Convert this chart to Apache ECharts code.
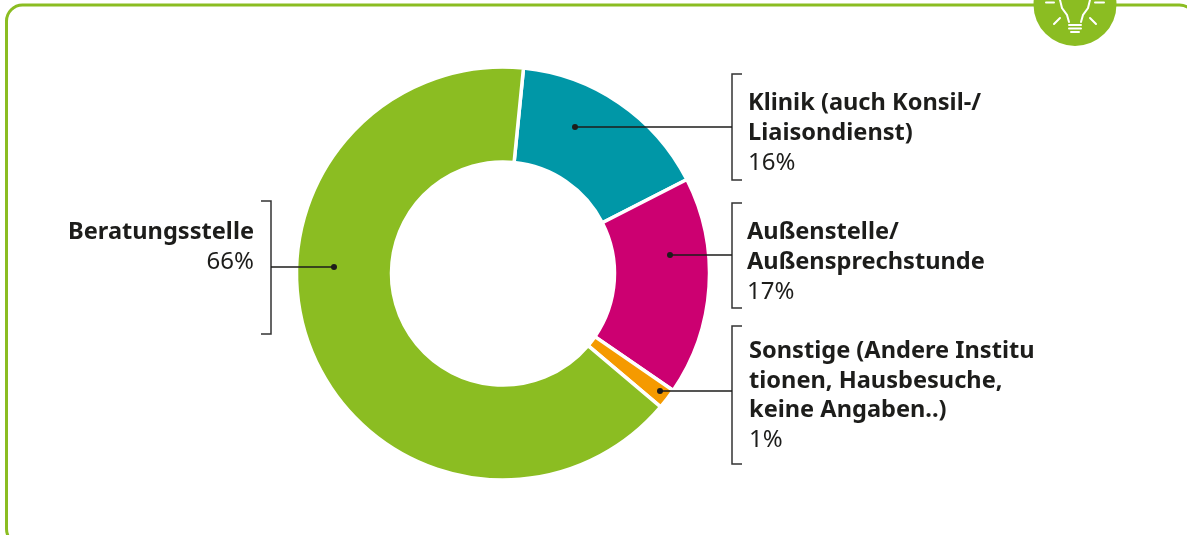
<!DOCTYPE html>
<html><head><meta charset="utf-8">
<style>html,body{margin:0;padding:0;background:#fff}#c{width:1187px;height:535px}</style>
<script src="https://cdn.jsdelivr.net/npm/echarts@6/dist/echarts.min.js"></script>
</head><body><div id="c"></div>
<script>
var categories = ['Klinik (auch Konsil-/\nLiaisondienst)', 'Außenstelle/\nAußensprechstunde', 'Sonstige (Andere Institu\ntionen, Hausbesuche,\nkeine Angaben..)', 'Beratungsstelle'];
var sliceValues = [15.9, 17.1, 1.6, 65.4];
var percentLabels = ['16%', '17%', '1%', '66%'];
var colors = ['#0097a7', '#cc0071', '#f59a00', '#8bbd22'];
var labelPos = [
  {x:748,y:89,align:'left'},
  {x:747,y:218,align:'left'},
  {x:749,y:337,align:'left'},
  {x:254,y:218,align:'right'}
];
var brackets = [
  {x:732,t:74,b:180,y:127,dx:575,dir:1},
  {x:732,t:203,b:308,y:255,dx:670,dir:1},
  {x:732,t:326,b:464,y:391,dx:660,dir:1},
  {x:271,t:201,b:334,y:267,dx:334,dir:-1}
];
var ink = '#1d1d1b', green = '#8bbd22';
var g = [];
g.push({type:'rect',shape:{x:6.5,y:5,width:1189,height:540,r:16},style:{fill:'none',stroke:green,lineWidth:3},z:1});
brackets.forEach(function(b){
  g.push({type:'polyline',shape:{points:[[b.x+b.dir*10,b.t],[b.x,b.t],[b.x,b.b],[b.x+b.dir*10,b.b]]},style:{fill:'none',stroke:'#333',lineWidth:1.5},z:5});
  g.push({type:'line',shape:{x1:b.x,y1:b.y,x2:b.dx,y2:b.y},style:{stroke:ink,lineWidth:1.5},z:5});
  g.push({type:'circle',shape:{cx:b.dx,cy:b.y,r:3},style:{fill:ink},z:6});
});
g.push({type:'circle',shape:{cx:1075,cy:4.5,r:41.5},style:{fill:green},z:7});
var w = {fill:'none',stroke:'#fff',lineWidth:2,lineCap:'round'};
[[1046,2.5,1054,2.5],[1095,2.5,1104,2.5],[1054,24,1060,18],[1090,18,1096,24],[1069,25,1081,25],[1069,28.5,1081,28.5],[1071,32,1079,32]].forEach(function(s){
  g.push({type:'line',shape:{x1:s[0],y1:s[1],x2:s[2],y2:s[3]},style:w,z:8});
});
g.push({type:'polyline',shape:{points:[[1069,22],[1067,15],[1062,8],[1060,0],[1060,-4]]},style:w,z:8});
g.push({type:'polyline',shape:{points:[[1081,22],[1083,15],[1088,8],[1090,0],[1090,-4]]},style:w,z:8});
var chart = echarts.init(document.getElementById('c'), null, {renderer:'canvas'});
chart.setOption({
  animation:false,
  graphic:{elements:g},
  series:[{
    type:'pie',
    center:[503,273.5],
    radius:[111.5,206.5],
    startAngle:84.3,
    clockwise:true,
    silent:true,
    avoidLabelOverlap:false,
    itemStyle:{borderColor:'#fff',borderWidth:3.5},
    labelLine:{show:false},
    label:{
      show:true,position:'outside',
      formatter:function(p){
        var lines = p.name.split('\n').map(function(t){return '{b|'+t+'}';});
        lines.push('{p|'+percentLabels[p.dataIndex]+'}');
        return lines.join('\n');
      },
      rich:{
        b:{fontFamily:'"Noto Sans"',fontWeight:'bold',fontSize:23.6,lineHeight:29.5,color:ink},
        p:{fontFamily:'"Noto Sans"',fontWeight:400,fontSize:24,lineHeight:29.5,color:ink}
      }
    },
    labelLayout:function(p){
      var l = labelPos[p.dataIndex];
      return {x:l.x,y:l.y,align:l.align,verticalAlign:'top',hideOverlap:false};
    },
    data:categories.map(function(n,i){return {name:n,value:sliceValues[i],itemStyle:{color:colors[i]}};})
  }]
});
</script></body></html>
